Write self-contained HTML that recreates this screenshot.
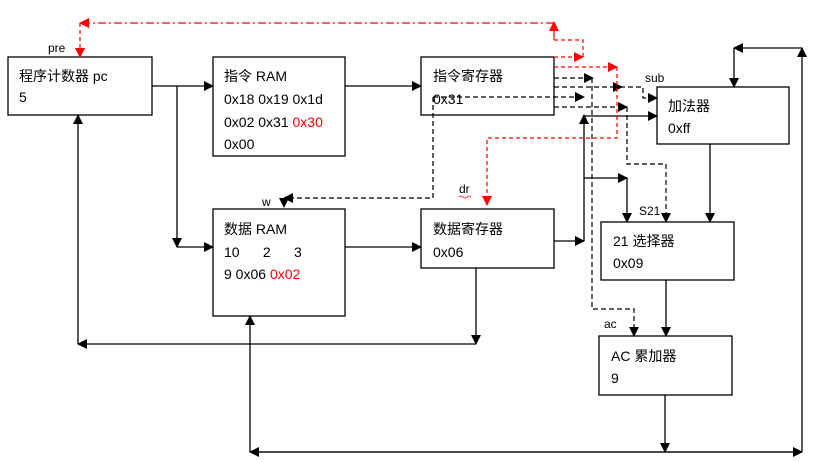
<!DOCTYPE html>
<html><head><meta charset="utf-8"><style>
body{margin:0;background:#fff}
svg{display:block}
text{font-family:"Liberation Sans","Noto Sans CJK SC",sans-serif;font-size:14px;fill:#000}
.s{font-size:12px}
</style></head><body>
<svg width="821" height="462" viewBox="0 0 821 462" xmlns="http://www.w3.org/2000/svg">
<defs>
<marker id="a" markerWidth="10" markerHeight="10" refX="9" refY="5" orient="auto" markerUnits="userSpaceOnUse"><path d="M0,0 L10,5 L0,10 z" fill="#000"/></marker>
<marker id="r" markerWidth="10" markerHeight="10" refX="9" refY="5" orient="auto" markerUnits="userSpaceOnUse"><path d="M0,0 L10,5 L0,10 z" fill="#f00"/></marker>
</defs>
<g fill="none" stroke="#000" stroke-width="1.3">
<rect x="8" y="57" width="144" height="58"/>
<rect x="213" y="57" width="132" height="99"/>
<rect x="213" y="209" width="132" height="107"/>
<rect x="421" y="57" width="133" height="58"/>
<rect x="421" y="209" width="133" height="59"/>
<rect x="657" y="87" width="132" height="57"/>
<rect x="601" y="222" width="133" height="58"/>
<rect x="599" y="336" width="133" height="59"/>
</g>
<g fill="none" stroke="#000" stroke-width="1.3">
<line x1="152" y1="86" x2="213" y2="86" marker-end="url(#a)"/>
<line x1="177" y1="86" x2="177" y2="247" marker-end="url(#a)"/>
<line x1="177" y1="247" x2="213" y2="247" marker-end="url(#a)"/>
<line x1="345" y1="86" x2="421" y2="86" marker-end="url(#a)"/>
<line x1="345" y1="247" x2="421" y2="247" marker-end="url(#a)"/>
<line x1="78" y1="344" x2="78" y2="115" marker-end="url(#a)"/>
<line x1="476" y1="344" x2="78" y2="344" marker-end="url(#a)"/>
<line x1="476" y1="268" x2="476" y2="344" marker-end="url(#a)"/>
<line x1="250" y1="452" x2="250" y2="316" marker-end="url(#a)"/>
<line x1="802" y1="452" x2="250" y2="452" marker-end="url(#a)"/>
<line x1="250" y1="452" x2="802" y2="452" marker-end="url(#a)"/>
<line x1="665" y1="395" x2="665" y2="452" marker-end="url(#a)"/>
<line x1="802" y1="452" x2="802" y2="48" marker-end="url(#a)"/>
<line x1="802" y1="48" x2="734" y2="48" marker-end="url(#a)"/>
<line x1="734" y1="48" x2="734" y2="87" marker-end="url(#a)"/>
<line x1="554" y1="241" x2="584" y2="241" marker-end="url(#a)"/>
<line x1="584" y1="241" x2="584" y2="115" marker-end="url(#a)"/>
<line x1="584" y1="116" x2="657" y2="116" marker-end="url(#a)"/>
<line x1="584" y1="178" x2="627" y2="178" marker-end="url(#a)"/>
<line x1="627" y1="178" x2="627" y2="222" marker-end="url(#a)"/>
<line x1="710" y1="144" x2="710" y2="222" marker-end="url(#a)"/>
<line x1="666" y1="280" x2="666" y2="336" marker-end="url(#a)"/>
</g>
<g fill="none" stroke="#000" stroke-width="1.2" stroke-dasharray="5,3">
<line x1="554" y1="78" x2="593" y2="78" marker-end="url(#a)"/>
<polyline points="592,78 592,309 634,309 634,336" marker-end="url(#a)"/>
<line x1="554" y1="87" x2="622" y2="87" marker-end="url(#a)"/>
<polyline points="620,87 643,87 643,98 657,98" marker-end="url(#a)"/>
<line x1="433" y1="97" x2="584" y2="97" marker-end="url(#a)"/>
<polyline points="433,97 433,198 284,198" marker-end="url(#a)"/>
<line x1="284" y1="198" x2="284" y2="207" marker-end="url(#a)"/>
<line x1="554" y1="107" x2="627" y2="107" marker-end="url(#a)"/>
<polyline points="627,107 627,164 666,164 666,222" marker-end="url(#a)"/>
</g>
<g fill="none" stroke="#f00" stroke-width="1.2">
<line x1="554" y1="23" x2="80" y2="23" stroke-dasharray="8,3,2,3" marker-end="url(#r)"/>
<line x1="80" y1="23" x2="80" y2="57" stroke-dasharray="4,3" marker-end="url(#r)"/>
<line x1="554" y1="40" x2="554" y2="22" marker-end="url(#r)"/>
<polyline points="554,40 583,40 583,57" stroke-dasharray="4,3"/>
<line x1="554" y1="57" x2="583" y2="57" stroke-dasharray="4,3" marker-end="url(#r)"/>
<line x1="554" y1="67" x2="617" y2="67" stroke-dasharray="4,3" marker-end="url(#r)"/>
<polyline points="617,67 617,138 487,138 487,205" stroke-dasharray="4,3" marker-end="url(#r)"/>
</g>
<text class="s" x="48" y="52">pre</text>
<text class="s" x="262" y="206">w</text>
<text class="s" x="459" y="193">dr</text>
<path d="M459,197 q2,-2 4,0 t4,0 t4,0" stroke="#f00" fill="none" stroke-width="0.8"/>
<text class="s" x="645" y="82">sub</text>
<text class="s" x="639" y="215">S21</text>
<text class="s" x="604" y="328">ac</text>
<text x="19" y="81">程序计数器 pc</text>
<text x="19" y="102">5</text>
<text x="224" y="81">指令 RAM</text>
<text x="224" y="104">0x18 0x19 0x1d</text>
<text x="224" y="127">0x02 0x31 <tspan fill="#f00">0x30</tspan></text>
<text x="224" y="149">0x00</text>
<text x="224" y="234">数据 RAM</text>
<text x="224" y="257">10 &#160; &#160; &#160;2 &#160; &#160; &#160;3</text>
<text x="224" y="279">9 0x06 <tspan fill="#f00">0x02</tspan></text>
<text x="433" y="81">指令寄存器</text>
<text x="433" y="104">0x31</text>
<text x="433" y="234">数据寄存器</text>
<text x="433" y="257">0x06</text>
<text x="668" y="111">加法器</text>
<text x="668" y="133">0xff</text>
<text x="613" y="246">21 选择器</text>
<text x="613" y="268">0x09</text>
<text x="611" y="361">AC 累加器</text>
<text x="611" y="383">9</text>
</svg>
</body></html>
